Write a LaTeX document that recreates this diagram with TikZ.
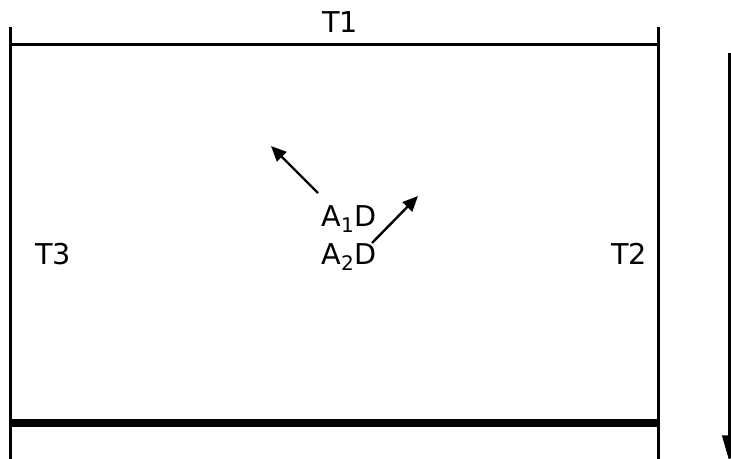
\documentclass[tikz,border=0pt]{standalone}
\usepackage{fontspec}
\setmainfont{DejaVu Sans}
\usepackage{tikz}
\usetikzlibrary{arrows.meta, positioning, calc}

\begin{document}
\begin{tikzpicture}[
    x=0.75pt, y=-0.75pt,
    font=\fontsize{21.5}{26}\selectfont,
    >={Triangle[length=11.5pt, width=10pt]},
    wall/.style={draw=black, line width=1.6pt},
    floor/.style={draw=black, line width=5.4pt},
    dirarrow/.style={->, draw=black, line width=1.8pt},
    flowarrow/.style={-{Triangle[length=20pt, width=11pt]}, draw=black, line width=1.6pt},
    lbl/.style={inner sep=0pt, anchor=base},
]
\useasboundingbox (0,0) rectangle (731,459);
\clip (0,0) rectangle (731,459);

% frame
\coordinate (tl) at (10.5, 27);
\coordinate (bl) at (10.5, 459);
\coordinate (tr) at (658.5, 27);
\coordinate (br) at (658.5, 459);
\coordinate (topl) at (10.5, 44.5);
\coordinate (topr) at (658.5, 44.5);
\coordinate (botl) at (10.5, 423);
\coordinate (botr) at (658.5, 423);
\draw[wall] (tl) -- (bl);
\draw[wall] (tr) -- (br);
\draw[wall] (topl) -- (topr);
\draw[floor] (botl) -- (botr);

% labels
\node[lbl] (t1) at (340, 33) {T1};
\node[lbl] (t3) at (53, 265) {T3};
\node[lbl] (t2) at (629, 265) {T2};
\node[lbl] (a1) at (349, 227) {A\textsubscript{1}D};
\node[lbl] (a2) at (349, 265) {A\textsubscript{2}D};

% directions
\coordinate (a1tail) at (318, 193);
\coordinate (a1head) at (271, 146);
\coordinate (a2tail) at (372, 243);
\coordinate (a2head) at (418, 196);
\draw[dirarrow] (a1tail) -- (a1head);
\draw[dirarrow] (a2tail) -- (a2head);

% side arrow
\coordinate (flowtop) at (729.5, 53);
\coordinate (flowbot) at (729.5, 462);
\draw[flowarrow] (flowtop) -- (flowbot);
\end{tikzpicture}
\end{document}
